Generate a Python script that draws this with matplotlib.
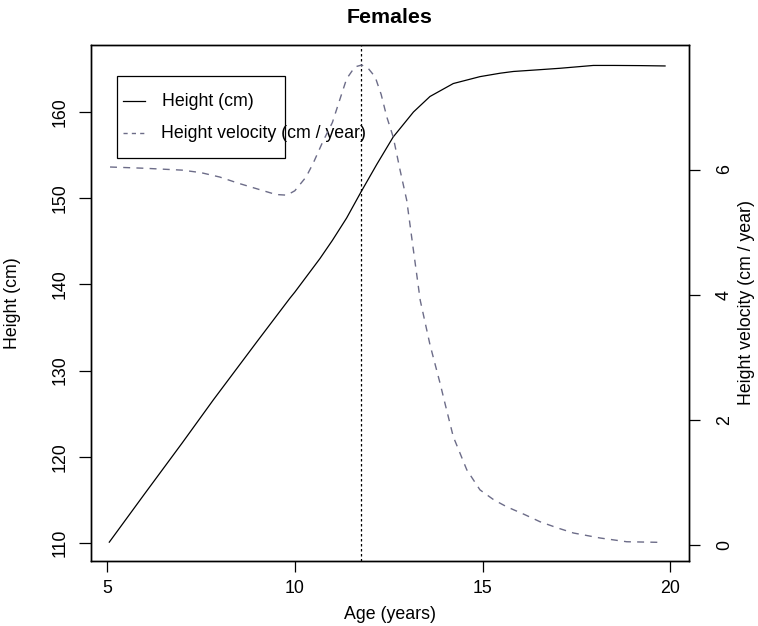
import matplotlib
matplotlib.use("Agg")
import matplotlib.pyplot as plt
from matplotlib.patches import Rectangle
from matplotlib.lines import Line2D

plt.rcParams.update(
    {
        "font.family": ["Liberation Sans", "DejaVu Sans"],
        "font.size": 12.8,
        "xtick.labelsize": 12.8,
        "ytick.labelsize": 12.8,
        "axes.linewidth": 1.0,
    }
)

# Height curve (age in years, height in cm)
age_h = [5.06, 6.0, 7.0, 7.83, 9.0, 9.87, 10.0, 10.67, 11.0, 11.38, 11.76,
         12.18, 12.62, 13.16, 13.6, 14.22, 14.93, 15.47, 15.82, 16.5, 17.06,
         17.95, 18.5, 19.2, 19.86]
height = [110.1, 115.7, 121.6, 126.6, 133.4, 138.4, 139.1, 143.0, 145.1, 147.7,
          150.7, 153.9, 157.1, 160.0, 161.8, 163.3, 164.1, 164.5, 164.7, 164.9,
          165.07, 165.4, 165.4, 165.38, 165.34]

# Height velocity (cm / year)
age_v = [5.08, 6.0, 7.0, 7.5, 8.0, 8.5, 9.0, 9.5, 9.79, 10.0, 10.3, 10.49,
         10.75, 11.0, 11.2, 11.38, 11.6, 11.78, 11.95, 12.14, 12.3, 12.45,
         12.62, 12.8, 12.98, 13.15, 13.34, 13.6, 13.87, 14.0, 14.22, 14.58,
         14.93, 15.3, 15.64, 16.1, 16.53, 17.0, 17.42, 18.13, 18.84, 19.77]
velocity = [6.04, 6.02, 5.99, 5.95, 5.88, 5.78, 5.69, 5.6, 5.59, 5.66, 5.88,
            6.1, 6.45, 6.75, 7.12, 7.45, 7.64, 7.67, 7.62, 7.48, 7.2, 6.84,
            6.52, 6.0, 5.51, 4.75, 3.91, 3.2, 2.58, 2.26, 1.73, 1.2, 0.88, 0.72,
            0.61, 0.49, 0.37, 0.27, 0.19, 0.11, 0.05, 0.04]

peak_age = 11.76

x_ticks = [5, 10, 15, 20]
h_ticks = [110, 120, 130, 140, 150, 160]
v_ticks = [0, 2, 4, 6]

vel_color = "#6c6c88"

fig = plt.figure(figsize=(7.58, 6.26), dpi=100)
ax = fig.add_axes([0.1194, 0.1046, 0.7902, 0.8235])
ax2 = ax.twinx()

ax.plot(age_h, height, color="black", lw=0.9)
ax2.plot(age_v, velocity, color=vel_color, lw=1.0, dashes=(5, 4.5))
ax.axvline(peak_age, color="black", lw=0.9, dashes=(2, 2))

ax.set_xlim(4.56, 20.51)
ax.set_ylim(107.97, 167.77)
ax2.set_ylim(-0.25, 7.99)

ax.set_xticks(x_ticks)
ax.set_yticks(h_ticks)
ax2.set_yticks(v_ticks)
ax.tick_params(axis="x", length=8, width=0.9, pad=6)
ax.tick_params(axis="y", length=9, width=0.9, pad=7, labelrotation=90)
ax2.tick_params(axis="y", length=8, width=0.9, pad=11, labelrotation=90)
for lab in ax.get_yticklabels():
    lab.set_va("center")
for lab in ax2.get_yticklabels():
    lab.set_va("center")

ax.set_xlabel("Age (years)", va="center")
ax.xaxis.set_label_coords(0.5, -0.105)
ax.set_ylabel("Height (cm)", va="center")
ax.yaxis.set_label_coords(-0.131, 0.5)
ax2.set_ylabel("Height velocity (cm / year)", va="center")
ax2.yaxis.set_label_coords(1.096, 0.5)
ax.set_title("Females", fontsize=15.4, fontweight="bold", pad=16)

# legend drawn as in the original (box narrower than the text)
ax.add_patch(Rectangle((0.0437, 0.7814), 0.281, 0.1585, transform=ax.transAxes,
                       fill=False, edgecolor="black", lw=0.9, zorder=5))
ax.add_line(Line2D([0.0543, 0.091], [0.891, 0.891], transform=ax.transAxes,
                   color="black", lw=0.9))
ax.add_line(Line2D([0.0543, 0.091], [0.829, 0.829], transform=ax.transAxes,
                   color=vel_color, lw=1.0, dashes=(3, 3)))
ax.text(0.1195, 0.891, "Height (cm)", transform=ax.transAxes, va="center")
ax.text(0.1175, 0.829, "Height velocity (cm / year)", transform=ax.transAxes,
        va="center")

fig.savefig("out.png", dpi=100)
